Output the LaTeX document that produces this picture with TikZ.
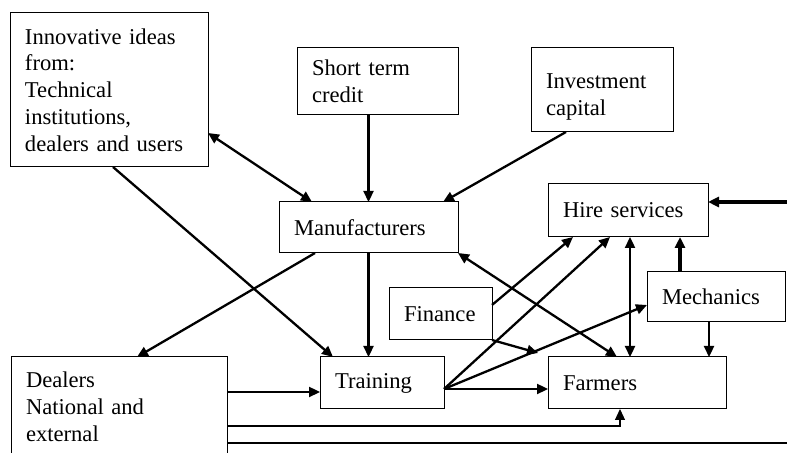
\documentclass[tikz,border=0pt]{standalone}
\usepackage{fontspec}
\setmainfont{Liberation Serif}
\usetikzlibrary{arrows.meta}

\begin{document}
\begin{tikzpicture}[x=0.5pt,y=-0.5pt,
  >={Triangle[length=5.5pt,width=5pt]},
  box/.style={draw,line width=0.5pt,anchor=north west,align=left,inner xsep=7.5pt,inner ysep=0pt,outer sep=0pt,font=\fontsize{11.3}{13.4}\selectfont},
  link/.style={line width=1.15pt},
  flat link/.style={line width=0.6pt}]
  \clip (0,0) rectangle (787,453);

  % boxes
  \node[box,text width=84pt,minimum height=77pt] (ideas) at (10,13) {Innovative ideas\\from:\\Technical\\institutions,\\dealers and users};
  \node[box,text width=65.5pt,minimum height=33.5pt] (credit) at (297,48) {Short term\\credit};
  \node[box,text width=56pt,minimum height=42pt,text depth=9pt] (invest) at (531,48) {Investment\\capital};
  \node[box,text width=74.5pt,minimum height=25.5pt] (manuf) at (279,202) {Manufacturers};
  \node[box,text width=65pt,minimum height=26.5pt] (hire) at (548,184) {Hire services};
  \node[box,text width=54pt,minimum height=25pt] (mech) at (647,272) {Mechanics};
  \node[box,text width=36.5pt,minimum height=26pt] (finance) at (389,288) {Finance};
  \node[box,text width=74pt,minimum height=26pt] (farmers) at (548,357) {Farmers};
  \node[box,text width=47pt,minimum height=26pt] (training) at (320,357) {Training};
  \node[box,text width=93pt,minimum height=50pt] (dealers) at (11,357) {Dealers\\National and\\external};

  \coordinate (hub) at ([yshift=-3pt]training.east);
  \coordinate (d1) at ([yshift=-17.5pt]dealers.north east);
  \coordinate (d2) at ([yshift=-34.5pt]dealers.north east);
  \coordinate (d3) at ([yshift=-43pt]dealers.north east);
  \coordinate (rim) at (787,443);
  \coordinate (feed) at (787,202);
  \coordinate (meet) at (538,353);

  % into and out of the manufacturers
  \draw[link,<->] ([yshift=17pt]ideas.south east) -- ([xshift=16.5pt]manuf.north west);
  \draw[link,->] ([xshift=51.5pt]ideas.south west) -- ([xshift=6.5pt]training.north west);
  \draw[link,->] (credit.south -| manuf.north) -- (manuf.north);
  \draw[link,->] ([xshift=17.5pt]invest.south west) -- ([xshift=-7.5pt]manuf.north east);
  \draw[link,->] ([xshift=18pt]manuf.south west) -- ([xshift=63pt]dealers.north west);
  \draw[link,->] (manuf.south) -- (manuf.south |- training.north);
  \draw[link,<->] (manuf.south east) -- ([xshift=34.5pt]farmers.north west);

  % dealers
  \draw[link,->] (d1) -- (d1 -| training.west);
  \draw[flat link,->] (d2) -| ([xshift=36pt]farmers.south west);
  \draw[flat link] (d3) -- (rim);

  % training, finance, hire services, mechanics
  \draw[link,->] (hub) -- ([xshift=31pt]hire.south west);
  \draw[link,->] (hub) -- ([yshift=8.5pt]mech.south west);
  \draw[link,->] (hub) -- (hub -| farmers.west);
  \draw[link,->] ([yshift=4.5pt]finance.east) -- ([xshift=12.5pt]hire.south west);
  \draw[link,->] (finance.south east) -- (meet);
  \draw[link,<->] ([xshift=41pt]hire.south west) -- ([xshift=41pt]farmers.north west);
  \draw[line width=1.6pt,->] ([xshift=16.5pt]mech.north west) -- ([xshift=16.5pt]mech.north west |- hire.south);
  \draw[link,->] ([xshift=31pt]mech.south west) -- ([xshift=31pt]mech.south west |- farmers.north);
  \draw[line width=2pt,->] (feed) -- (hire.east |- feed);
\end{tikzpicture}
\end{document}
